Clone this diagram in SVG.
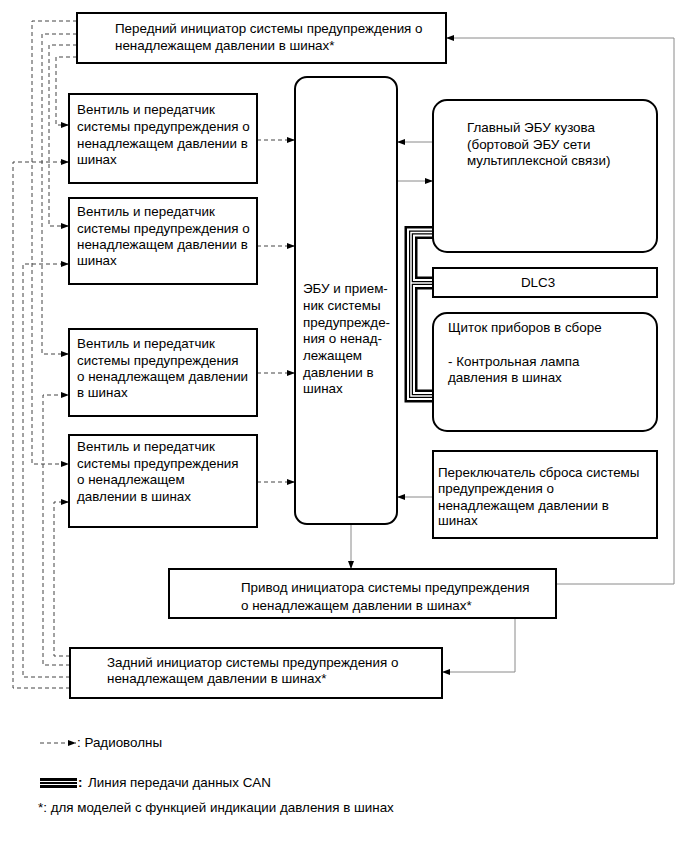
<svg xmlns="http://www.w3.org/2000/svg" width="689" height="854" viewBox="0 0 689 854">
<style>
.box{fill:#fff;stroke:#000;stroke-width:2}
.t{font-family:"Liberation Sans",Arial,sans-serif;font-size:13.4px;fill:#000}
.dash{fill:none;stroke:#444;stroke-width:1;stroke-dasharray:4 3}
.sol{fill:none;stroke:#8a8a8a;stroke-width:1}
</style>
<defs>
<marker id="arr" markerWidth="8" markerHeight="6" refX="8" refY="3" orient="auto" markerUnits="userSpaceOnUse">
<path d="M0,0 L8,3 L0,6 z" fill="#000"/>
</marker>
</defs>
<rect width="689" height="854" fill="#fff"/>

<g id="connectors">
<g id="radio">
<path class="dash" d="M77,21 H32 V464 H69" marker-end="url(#arr)"/>
<path class="dash" d="M77,34 H42 V354 H69" marker-end="url(#arr)"/>
<path class="dash" d="M77,45 H49 V226 H69" marker-end="url(#arr)"/>
<path class="dash" d="M77,57 H56 V125 H69" marker-end="url(#arr)"/>
<path class="dash" d="M70,656 H54 V502 H69" marker-end="url(#arr)"/>
<path class="dash" d="M70,665 H43 V395 H69" marker-end="url(#arr)"/>
<path class="dash" d="M70,677 H23 V264 H69" marker-end="url(#arr)"/>
<path class="dash" d="M70,688 H13 V162 H69" marker-end="url(#arr)"/>
<path class="dash" d="M257,140 H295" marker-end="url(#arr)"/>
<path class="dash" d="M257,246 H295" marker-end="url(#arr)"/>
<path class="dash" d="M257,373 H295" marker-end="url(#arr)"/>
<path class="dash" d="M257,482 H295" marker-end="url(#arr)"/>
</g>
<g id="wires">
<path class="sol" d="M433,142 H397" marker-end="url(#arr)"/>
<path class="sol" d="M397,181 H433" marker-end="url(#arr)"/>
<path class="sol" d="M433,497 H397" marker-end="url(#arr)"/>
<path class="sol" d="M351,524 V569" marker-end="url(#arr)"/>
<path class="sol" d="M556,584 H674 V38 H446" marker-end="url(#arr)"/>
<path class="sol" d="M515,618 V672 H442" marker-end="url(#arr)"/>
</g>
<g id="can" fill="none">
<path d="M434,232.5 H411 V396 H434 M411,283 H434" stroke="#000" stroke-width="13"/>
<path d="M434,232.5 H411 V396 H434 M411,283 H434" stroke="#fff" stroke-width="8"/>
<path d="M434,232.5 H411 V396 H434 M411,283 H434" stroke="#000" stroke-width="4"/>
<path d="M434,232.5 H411 V396 H434 M411,283 H434" stroke="#fff" stroke-width="1.5"/>
</g>
</g>

<g id="front">
<rect class="box" x="77" y="13" width="369" height="50"/>
<text class="t" x="115" y="33">Передний инициатор системы предупреждения о</text>
<text class="t" x="115" y="50">ненадлежащем давлении в шинах*</text>
</g>

<g id="sensor1">
<rect class="box" x="69" y="94" width="188" height="89"/>
<text class="t" x="77" y="114">Вентиль и передатчик</text>
<text class="t" x="77" y="131">системы предупреждения о</text>
<text class="t" x="77" y="148">ненадлежащем давлении в</text>
<text class="t" x="77" y="164">шинах</text>
</g>

<g id="sensor2">
<rect class="box" x="69" y="198" width="188" height="86"/>
<text class="t" x="77" y="216">Вентиль и передатчик</text>
<text class="t" x="77" y="233">системы предупреждения о</text>
<text class="t" x="77" y="249">ненадлежащем давлении в</text>
<text class="t" x="77" y="265">шинах</text>
</g>

<g id="sensor3">
<rect class="box" x="69" y="329" width="188" height="87"/>
<text class="t" x="77" y="348">Вентиль и передатчик</text>
<text class="t" x="77" y="365">системы предупреждения</text>
<text class="t" x="77" y="381">о ненадлежащем давлении</text>
<text class="t" x="77" y="397">в шинах</text>
</g>

<g id="sensor4">
<rect class="box" x="69" y="435" width="188" height="92"/>
<text class="t" x="77" y="451">Вентиль и передатчик</text>
<text class="t" x="77" y="468">системы предупреждения</text>
<text class="t" x="77" y="484">о ненадлежащем</text>
<text class="t" x="77" y="501">давлении в шинах</text>
</g>

<g id="ecu">
<rect class="box" x="295" y="77" width="102" height="447" rx="12"/>
<text class="t" x="303" y="293">ЭБУ и прием-</text>
<text class="t" x="303" y="310">ник системы</text>
<text class="t" x="303" y="327">предупрежде-</text>
<text class="t" x="303" y="343">ния о ненад-</text>
<text class="t" x="303" y="360">лежащем</text>
<text class="t" x="303" y="377">давлении в</text>
<text class="t" x="303" y="393">шинах</text>
</g>

<g id="body">
<rect class="box" x="433" y="100" width="224" height="152" rx="14"/>
<text class="t" x="467" y="132">Главный ЭБУ кузова</text>
<text class="t" x="467" y="149">(бортовой ЭБУ сети</text>
<text class="t" x="467" y="165">мультиплексной связи)</text>
</g>

<g id="dlc3">
<rect class="box" x="433" y="268" width="224" height="29"/>
<text class="t" x="538" y="287" text-anchor="middle">DLC3</text>
</g>

<g id="cluster">
<rect class="box" x="433" y="313" width="224" height="118" rx="14"/>
<text class="t" x="448" y="332">Щиток приборов в сборе</text>
<text class="t" x="448" y="366">- Контрольная лампа</text>
<text class="t" x="448" y="382">давления в шинах</text>
</g>

<g id="switch">
<rect class="box" x="433" y="451" width="224" height="87"/>
<text class="t" x="438" y="477">Переключатель сброса системы</text>
<text class="t" x="438" y="493">предупреждения о</text>
<text class="t" x="438" y="510">ненадлежащем давлении в</text>
<text class="t" x="438" y="525">шинах</text>
</g>

<g id="driver">
<rect class="box" x="169" y="569" width="387" height="49"/>
<text class="t" x="241" y="592">Привод инициатора системы предупреждения</text>
<text class="t" x="241" y="610">о ненадлежащем давлении в шинах*</text>
</g>

<g id="rear">
<rect class="box" x="70" y="648" width="372" height="50"/>
<text class="t" x="107" y="667">Задний инициатор системы предупреждения о</text>
<text class="t" x="107" y="683">ненадлежащем давлении в шинах*</text>
</g>

<g id="legend">
<path class="dash" d="M40,743 H76" marker-end="url(#arr)"/>
<text class="t" x="77" y="747">: Радиоволны</text>
<rect x="40" y="778" width="37" height="3" fill="#000"/>
<rect x="40" y="782" width="37" height="2" fill="#000"/>
<rect x="40" y="785" width="37" height="3" fill="#000"/>
<text class="t" x="78" y="787" font-weight="bold">:</text>
<text class="t" x="88" y="787">Линия передачи данных CAN</text>
<text class="t" x="38" y="812">*: для моделей с функцией индикации давления в шинах</text>
</g>
</svg>
